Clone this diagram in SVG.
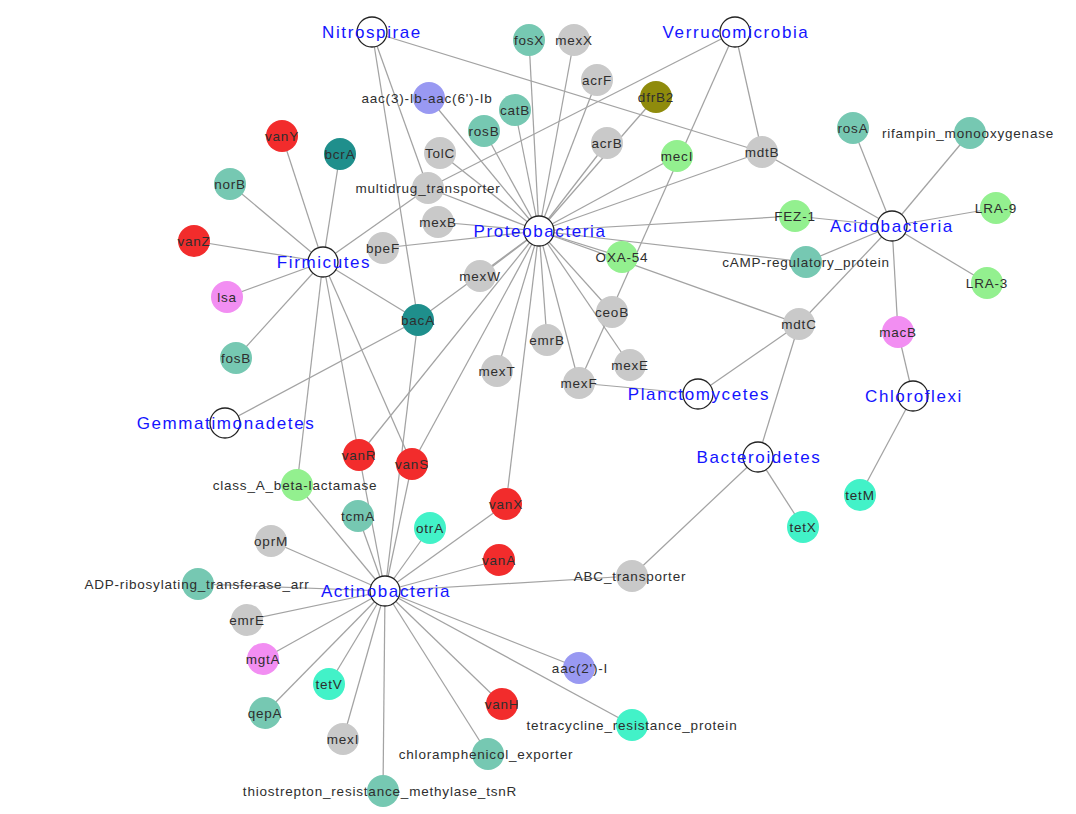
<svg xmlns="http://www.w3.org/2000/svg" width="1076" height="814" viewBox="0 0 1076 814">
<style>
.bg{fill:#ffffff}
#edges line{stroke:#a3a3a3;stroke-width:1.25}
.ph circle{fill:#ffffff;stroke:#222222;stroke-width:1.3}
.ph text{font-family:"Liberation Sans",Arial,sans-serif;font-size:17px;fill:#1414ff;letter-spacing:1.6px;text-anchor:middle}
.gn text{font-family:"Liberation Sans",Arial,sans-serif;font-size:13.5px;fill:#2e2e2e;letter-spacing:0.8px;text-anchor:middle}
.gr{fill:#c9c9c9}.tl{fill:#76c8b2}.dt{fill:#1f8f8c}.rd{fill:#f22c2c}.lg{fill:#93f08f}.pk{fill:#f28ef2}.pw{fill:#9999f2}.ol{fill:#8f8b0c}.aq{fill:#42f2c8}
</style>
<rect class="bg" x="0" y="0" width="1076" height="814"/>
<g id="edges">
<!-- Firmicutes -->
<line x1="323" y1="262" x2="282" y2="136"/>
<line x1="323" y1="262" x2="340" y2="154"/>
<line x1="323" y1="262" x2="230" y2="184"/>
<line x1="323" y1="262" x2="194" y2="241"/>
<line x1="323" y1="262" x2="227" y2="297"/>
<line x1="323" y1="262" x2="236" y2="358"/>
<line x1="323" y1="262" x2="428" y2="188"/>
<line x1="323" y1="262" x2="418" y2="320"/>
<line x1="323" y1="262" x2="297" y2="485"/>
<line x1="323" y1="262" x2="359" y2="455"/>
<line x1="323" y1="262" x2="412" y2="464"/>
<!-- Nitrospirae -->
<line x1="372" y1="32" x2="762" y2="152"/>
<line x1="372" y1="32" x2="428" y2="188"/>
<line x1="372" y1="32" x2="418" y2="320"/>
<!-- Verrucomicrobia -->
<line x1="735" y1="32" x2="428" y2="188"/>
<line x1="735" y1="32" x2="579" y2="383"/>
<line x1="735" y1="32" x2="762" y2="152"/>
<!-- Proteobacteria -->
<line x1="539" y1="231" x2="429" y2="98"/>
<line x1="539" y1="231" x2="529" y2="40"/>
<line x1="539" y1="231" x2="574" y2="40"/>
<line x1="539" y1="231" x2="597" y2="80"/>
<line x1="539" y1="231" x2="656" y2="97"/>
<line x1="539" y1="231" x2="515" y2="110"/>
<line x1="539" y1="231" x2="484" y2="131"/>
<line x1="539" y1="231" x2="440" y2="153"/>
<line x1="539" y1="231" x2="607" y2="143"/>
<line x1="539" y1="231" x2="677" y2="156"/>
<line x1="539" y1="231" x2="762" y2="152"/>
<line x1="539" y1="231" x2="428" y2="188"/>
<line x1="539" y1="231" x2="438" y2="222"/>
<line x1="539" y1="231" x2="383" y2="248"/>
<line x1="539" y1="231" x2="795" y2="216"/>
<line x1="539" y1="231" x2="806" y2="262"/>
<line x1="539" y1="231" x2="622" y2="257"/>
<line x1="539" y1="231" x2="799" y2="324"/>
<line x1="539" y1="231" x2="480" y2="276"/>
<line x1="539" y1="231" x2="418" y2="320"/>
<line x1="539" y1="231" x2="612" y2="312"/>
<line x1="539" y1="231" x2="630" y2="365"/>
<line x1="539" y1="231" x2="547" y2="340"/>
<line x1="539" y1="231" x2="497" y2="371"/>
<line x1="539" y1="231" x2="579" y2="383"/>
<line x1="539" y1="231" x2="359" y2="455"/>
<line x1="539" y1="231" x2="412" y2="464"/>
<line x1="539" y1="231" x2="506" y2="504"/>
<!-- Acidobacteria -->
<line x1="892" y1="226" x2="853" y2="128"/>
<line x1="892" y1="226" x2="970" y2="133"/>
<line x1="892" y1="226" x2="996" y2="208"/>
<line x1="892" y1="226" x2="987" y2="283"/>
<line x1="892" y1="226" x2="898" y2="332"/>
<line x1="892" y1="226" x2="799" y2="324"/>
<line x1="892" y1="226" x2="806" y2="262"/>
<line x1="892" y1="226" x2="795" y2="216"/>
<line x1="892" y1="226" x2="762" y2="152"/>
<!-- Planctomycetes -->
<line x1="698" y1="394" x2="579" y2="383"/>
<line x1="698" y1="394" x2="799" y2="324"/>
<!-- Chloroflexi -->
<line x1="913" y1="396" x2="898" y2="332"/>
<line x1="913" y1="396" x2="860" y2="495"/>
<!-- Bacteroidetes -->
<line x1="758" y1="457" x2="799" y2="324"/>
<line x1="758" y1="457" x2="803" y2="527"/>
<line x1="758" y1="457" x2="632" y2="576"/>
<!-- Gemmatimonadetes -->
<line x1="225" y1="423" x2="418" y2="320"/>
<!-- Actinobacteria -->
<line x1="385" y1="591" x2="297" y2="485"/>
<line x1="385" y1="591" x2="358" y2="516"/>
<line x1="385" y1="591" x2="359" y2="455"/>
<line x1="385" y1="591" x2="412" y2="464"/>
<line x1="385" y1="591" x2="418" y2="320"/>
<line x1="385" y1="591" x2="430" y2="528"/>
<line x1="385" y1="591" x2="506" y2="504"/>
<line x1="385" y1="591" x2="499" y2="560"/>
<line x1="385" y1="591" x2="632" y2="576"/>
<line x1="385" y1="591" x2="271" y2="541"/>
<line x1="385" y1="591" x2="198" y2="584"/>
<line x1="385" y1="591" x2="247" y2="620"/>
<line x1="385" y1="591" x2="263" y2="659"/>
<line x1="385" y1="591" x2="329" y2="684"/>
<line x1="385" y1="591" x2="265" y2="713"/>
<line x1="385" y1="591" x2="343" y2="739"/>
<line x1="385" y1="591" x2="383" y2="791"/>
<line x1="385" y1="591" x2="488" y2="754"/>
<line x1="385" y1="591" x2="502" y2="704"/>
<line x1="385" y1="591" x2="632" y2="725"/>
<line x1="385" y1="591" x2="579" y2="668"/>
</g>
<g id="genes">
<g id="n-fosX" class="gn"><circle class="tl" cx="529" cy="40" r="16"/><text x="529" y="44.5">fosX</text></g>
<g id="n-mexX" class="gn"><circle class="gr" cx="574" cy="40" r="16"/><text x="574" y="44.5">mexX</text></g>
<g id="n-acrF" class="gn"><circle class="gr" cx="597" cy="80" r="16"/><text x="597" y="84.5">acrF</text></g>
<g id="n-aac3" class="gn"><circle class="pw" cx="429" cy="98" r="16"/><text x="427" y="102.5">aac(3)-Ib-aac(6')-Ib</text></g>
<g id="n-dfrB2" class="gn"><circle class="ol" cx="656" cy="97" r="16"/><text x="656" y="101.5">dfrB2</text></g>
<g id="n-catB" class="gn"><circle class="tl" cx="515" cy="110" r="16"/><text x="515" y="114.5">catB</text></g>
<g id="n-rosB" class="gn"><circle class="tl" cx="484" cy="131" r="16"/><text x="484" y="135.5">rosB</text></g>
<g id="n-vanY" class="gn"><circle class="rd" cx="282" cy="136" r="16"/><text x="282" y="140.5">vanY</text></g>
<g id="n-acrB" class="gn"><circle class="gr" cx="607" cy="143" r="16"/><text x="607" y="147.5">acrB</text></g>
<g id="n-mdtB" class="gn"><circle class="gr" cx="762" cy="152" r="16"/><text x="762" y="156.5">mdtB</text></g>
<g id="n-TolC" class="gn"><circle class="gr" cx="440" cy="153" r="16"/><text x="440" y="157.5">TolC</text></g>
<g id="n-bcrA" class="gn"><circle class="dt" cx="340" cy="154" r="16"/><text x="340" y="158.5">bcrA</text></g>
<g id="n-mecI" class="gn"><circle class="lg" cx="677" cy="156" r="16"/><text x="677" y="160.5">mecI</text></g>
<g id="n-norB" class="gn"><circle class="tl" cx="230" cy="184" r="16"/><text x="230" y="188.5">norB</text></g>
<g id="n-multidrug_transporter" class="gn"><circle class="gr" cx="428" cy="188" r="16"/><text x="428" y="192.5">multidrug_transporter</text></g>
<g id="n-mexB" class="gn"><circle class="gr" cx="438" cy="222" r="16"/><text x="438" y="226.5">mexB</text></g>
<g id="n-vanZ" class="gn"><circle class="rd" cx="194" cy="241" r="16"/><text x="194" y="245.5">vanZ</text></g>
<g id="n-bpeF" class="gn"><circle class="gr" cx="383" cy="248" r="16"/><text x="383" y="252.5">bpeF</text></g>
<g id="n-FEZ-1" class="gn"><circle class="lg" cx="795" cy="216" r="16"/><text x="795" y="220.5">FEZ-1</text></g>
<g id="n-rosA" class="gn"><circle class="tl" cx="853" cy="128" r="16"/><text x="853" y="132.5">rosA</text></g>
<g id="n-rifampin_monooxygenase" class="gn"><circle class="tl" cx="970" cy="133" r="16"/><text x="968" y="137.5">rifampin_monooxygenase</text></g>
<g id="n-LRA-9" class="gn"><circle class="lg" cx="996" cy="208" r="16"/><text x="996" y="212.5">LRA-9</text></g>
<g id="n-LRA-3" class="gn"><circle class="lg" cx="987" cy="283" r="16"/><text x="987" y="287.5">LRA-3</text></g>
<g id="n-cAMP-regulatory_protein" class="gn"><circle class="tl" cx="806" cy="262" r="16"/><text x="806" y="266.5">cAMP-regulatory_protein</text></g>
<g id="n-OXA-54" class="gn"><circle class="lg" cx="622" cy="257" r="16"/><text x="622" y="261.5">OXA-54</text></g>
<g id="n-mexW" class="gn"><circle class="gr" cx="480" cy="276" r="16"/><text x="480" y="280.5">mexW</text></g>
<g id="n-lsa" class="gn"><circle class="pk" cx="227" cy="297" r="16"/><text x="227" y="301.5">lsa</text></g>
<g id="n-bacA" class="gn"><circle class="dt" cx="418" cy="320" r="16"/><text x="418" y="324.5">bacA</text></g>
<g id="n-ceoB" class="gn"><circle class="gr" cx="612" cy="312" r="16"/><text x="612" y="316.5">ceoB</text></g>
<g id="n-mdtC" class="gn"><circle class="gr" cx="799" cy="324" r="16"/><text x="799" y="328.5">mdtC</text></g>
<g id="n-macB" class="gn"><circle class="pk" cx="898" cy="332" r="16"/><text x="898" y="336.5">macB</text></g>
<g id="n-emrB" class="gn"><circle class="gr" cx="547" cy="340" r="16"/><text x="547" y="344.5">emrB</text></g>
<g id="n-fosB" class="gn"><circle class="tl" cx="236" cy="358" r="16"/><text x="236" y="362.5">fosB</text></g>
<g id="n-mexE" class="gn"><circle class="gr" cx="630" cy="365" r="16"/><text x="630" y="369.5">mexE</text></g>
<g id="n-mexT" class="gn"><circle class="gr" cx="497" cy="371" r="16"/><text x="497" y="375.5">mexT</text></g>
<g id="n-mexF" class="gn"><circle class="gr" cx="579" cy="383" r="16"/><text x="579" y="387.5">mexF</text></g>
<g id="n-vanR" class="gn"><circle class="rd" cx="359" cy="455" r="16"/><text x="359" y="459.5">vanR</text></g>
<g id="n-vanS" class="gn"><circle class="rd" cx="412" cy="464" r="16"/><text x="412" y="468.5">vanS</text></g>
<g id="n-class_A_beta-lactamase" class="gn"><circle class="lg" cx="297" cy="485" r="16"/><text x="295" y="489.5">class_A_beta-lactamase</text></g>
<g id="n-tetM" class="gn"><circle class="aq" cx="860" cy="495" r="16"/><text x="860" y="499.5">tetM</text></g>
<g id="n-vanX" class="gn"><circle class="rd" cx="506" cy="504" r="16"/><text x="506" y="508.5">vanX</text></g>
<g id="n-tcmA" class="gn"><circle class="tl" cx="358" cy="516" r="16"/><text x="358" y="520.5">tcmA</text></g>
<g id="n-otrA" class="gn"><circle class="aq" cx="430" cy="528" r="16"/><text x="430" y="532.5">otrA</text></g>
<g id="n-tetX" class="gn"><circle class="aq" cx="803" cy="527" r="16"/><text x="803" y="531.5">tetX</text></g>
<g id="n-oprM" class="gn"><circle class="gr" cx="271" cy="541" r="16"/><text x="271" y="545.5">oprM</text></g>
<g id="n-vanA" class="gn"><circle class="rd" cx="499" cy="560" r="16"/><text x="499" y="564.5">vanA</text></g>
<g id="n-ABC_transporter" class="gn"><circle class="gr" cx="632" cy="576" r="16"/><text x="630" y="580.5">ABC_transporter</text></g>
<g id="n-ADP-ribosylating_transferase_arr" class="gn"><circle class="tl" cx="198" cy="584" r="16"/><text x="197" y="588.5">ADP-ribosylating_transferase_arr</text></g>
<g id="n-emrE" class="gn"><circle class="gr" cx="247" cy="620" r="16"/><text x="247" y="624.5">emrE</text></g>
<g id="n-mgtA" class="gn"><circle class="pk" cx="263" cy="659" r="16"/><text x="263" y="663.5">mgtA</text></g>
<g id="n-aac2" class="gn"><circle class="pw" cx="579" cy="668" r="16"/><text x="580" y="672.5">aac(2')-I</text></g>
<g id="n-tetV" class="gn"><circle class="aq" cx="329" cy="684" r="16"/><text x="329" y="688.5">tetV</text></g>
<g id="n-vanH" class="gn"><circle class="rd" cx="502" cy="704" r="16"/><text x="502" y="708.5">vanH</text></g>
<g id="n-qepA" class="gn"><circle class="tl" cx="265" cy="713" r="16"/><text x="265" y="717.5">qepA</text></g>
<g id="n-tetracycline_resistance_protein" class="gn"><circle class="aq" cx="632" cy="725" r="16"/><text x="632" y="729.5">tetracycline_resistance_protein</text></g>
<g id="n-mexI" class="gn"><circle class="gr" cx="343" cy="739" r="16"/><text x="343" y="743.5">mexI</text></g>
<g id="n-chloramphenicol_exporter" class="gn"><circle class="tl" cx="488" cy="754" r="16"/><text x="486" y="758.5">chloramphenicol_exporter</text></g>
<g id="n-thiostrepton_resistance_methylase_tsnR" class="gn"><circle class="tl" cx="383" cy="791" r="16"/><text x="380" y="795.5">thiostrepton_resistance_methylase_tsnR</text></g>
</g>
<g id="phyla">
<g id="p-Nitrospirae" class="ph"><circle cx="372" cy="32" r="15"/><text x="372" y="38">Nitrospirae</text></g>
<g id="p-Verrucomicrobia" class="ph"><circle cx="735" cy="32" r="15"/><text x="736" y="38">Verrucomicrobia</text></g>
<g id="p-Proteobacteria" class="ph"><circle cx="539" cy="231" r="15"/><text x="540" y="237">Proteobacteria</text></g>
<g id="p-Firmicutes" class="ph"><circle cx="323" cy="262" r="15"/><text x="324" y="268">Firmicutes</text></g>
<g id="p-Acidobacteria" class="ph"><circle cx="892" cy="226" r="15"/><text x="892" y="232">Acidobacteria</text></g>
<g id="p-Gemmatimonadetes" class="ph"><circle cx="225" cy="423" r="15"/><text x="226" y="429">Gemmatimonadetes</text></g>
<g id="p-Planctomycetes" class="ph"><circle cx="698" cy="394" r="15"/><text x="699" y="400">Planctomycetes</text></g>
<g id="p-Chloroflexi" class="ph"><circle cx="913" cy="396" r="15"/><text x="914" y="402">Chloroflexi</text></g>
<g id="p-Bacteroidetes" class="ph"><circle cx="758" cy="457" r="15"/><text x="759" y="463">Bacteroidetes</text></g>
<g id="p-Actinobacteria" class="ph"><circle cx="385" cy="591" r="15"/><text x="386" y="597">Actinobacteria</text></g>
</g>
</svg>
